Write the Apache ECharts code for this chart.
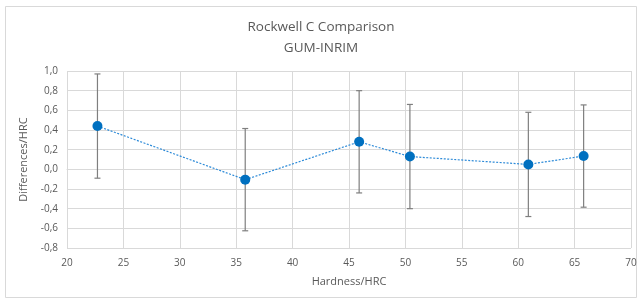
<!DOCTYPE html>
<html lang="en">
<head>
    <meta charset="utf-8">
    <title>Rockwell C Comparison</title>
    <script src="https://cdn.jsdelivr.net/npm/echarts@6.0.0/dist/echarts.min.js"></script>
    <style>
        html, body { margin: 0; padding: 0; background: #fff; }
        #chart { width: 642px; height: 304px; }
    </style>
</head>
<body>
<div id="chart"></div>
<script type="text/javascript">
    // hardness values (x) and differences GUM-INRIM (y)
    var hardness = [22.7, 35.8, 45.9, 50.4, 60.9, 65.8];
    var diffs = [0.44, -0.105, 0.28, 0.13, 0.05, 0.135];
    // expanded uncertainty (symmetric error bars)
    var uncert = [0.53, 0.52, 0.52, 0.53, 0.53, 0.52];

    var myChart = echarts.init(document.getElementById('chart'));
    var textColor = '#595959';
    var font = 'Open Sans';

    var points = hardness.map(function (h, i) { return [h, diffs[i]]; });
    var bars = hardness.map(function (h, i) {
        return [h, diffs[i] - uncert[i], diffs[i] + uncert[i]];
    });

    myChart.setOption({
        animation: false,
        backgroundColor: '#fff',
        graphic: [{
            type: 'rect',
            shape: { x: 5.5, y: 6.5, width: 631, height: 291 },
            style: { fill: 'none', stroke: '#d9d9d9', lineWidth: 1 },
            silent: true
        }],
        title: {
            text: 'Rockwell C Comparison\nGUM-INRIM',
            left: 'center',
            top: 12,
            textStyle: {
                fontFamily: font,
                fontSize: 13.5,
                fontWeight: 'normal',
                color: textColor,
                lineHeight: 21
            }
        },
        grid: { left: 67, right: 11, top: 71, bottom: 56 },
        xAxis: {
            type: 'value',
            min: 20, max: 70, interval: 5,
            name: 'Hardness/HRC',
            nameLocation: 'middle',
            nameGap: 28,
            nameTextStyle: { fontFamily: font, fontSize: 11, color: textColor },
            axisLine: { show: true, lineStyle: { color: '#d9d9d9' } },
            axisTick: { show: false },
            axisLabel: { fontFamily: font, fontSize: 10, color: textColor, margin: 10 },
            splitLine: { show: true, lineStyle: { color: '#d9d9d9' } }
        },
        yAxis: {
            type: 'value',
            min: -0.8, max: 1.0, interval: 0.2,
            name: 'Differences/HRC',
            nameLocation: 'middle',
            nameGap: 33,
            nameTextStyle: { fontFamily: font, fontSize: 11, color: textColor },
            axisLine: { show: false },
            axisTick: { show: false },
            axisLabel: {
                fontFamily: font, fontSize: 10, color: textColor, margin: 9,
                formatter: function (v) { return v.toFixed(1).replace('.', ','); }
            },
            splitLine: { show: true, lineStyle: { color: '#d9d9d9' } }
        },
        series: [{
            type: 'custom',
            z: 3,
            renderItem: function (params, api) {
                var x = api.value(0);
                var lo = api.coord([x, api.value(1)]);
                var hi = api.coord([x, api.value(2)]);
                var cap = 3;
                var st = { stroke: '#7f7f7f', lineWidth: 1.2 };
                return {
                    type: 'group',
                    children: [
                        { type: 'line', shape: { x1: lo[0], y1: lo[1], x2: hi[0], y2: hi[1] }, style: st },
                        { type: 'line', shape: { x1: lo[0] - cap, y1: lo[1], x2: lo[0] + cap, y2: lo[1] }, style: st },
                        { type: 'line', shape: { x1: hi[0] - cap, y1: hi[1], x2: hi[0] + cap, y2: hi[1] }, style: st }
                    ]
                };
            },
            encode: { x: 0, y: [1, 2] },
            data: bars
        }, {
            type: 'line',
            z: 4,
            data: points,
            symbol: 'circle',
            symbolSize: 10,
            itemStyle: { color: '#0070c0' },
            lineStyle: { color: '#2e8bd8', width: 1.2, type: [2, 1.5] }
        }]
    });
</script>
</body>
</html>
